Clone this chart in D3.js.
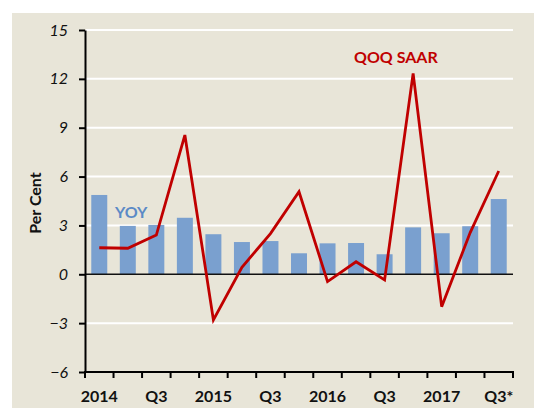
<!DOCTYPE html>
<html>
<head>
<meta charset="utf-8">
<script src="https://cdn.jsdelivr.net/npm/d3@7"></script>
<style>
  html, body { margin: 0; padding: 0; background: #ffffff; }
  svg { display: block; font-family: Lato, "Open Sans", sans-serif; }
</style>
</head>
<body>
<div class="chart"></div>
<script>
// quarters 2014Q1 .. 2017Q3
const quarters = ['2014Q1','2014Q2','2014Q3','2014Q4','2015Q1','2015Q2','2015Q3','2015Q4',
                  '2016Q1','2016Q2','2016Q3','2016Q4','2017Q1','2017Q2','2017Q3'];
// label shown under every second quarter
const quarterLabels = ['2014','','Q3','','2015','','Q3','','2016','','Q3','','2017','','Q3*'];
// year over year growth (bars)
const yoyValues = [4.87, 2.97, 3.03, 3.47, 2.46, 1.98, 2.04, 1.29, 1.9, 1.92, 1.23, 2.88, 2.52, 2.95, 4.62];
// quarter over quarter, seasonally adjusted annual rate (line)
const qoqValues = [1.63, 1.6, 2.41, 8.55, -2.8, 0.43, 2.5, 5.07, -0.45, 0.77, -0.35, 12.34, -1.99, 2.56, 6.34];
const yTicks = [-6, -3, 0, 3, 6, 9, 12, 15];

const svg_width = 534, svg_height = 408;
const plot = {left: 85, right: 513, top: 30, bottom: 372};

const svg = d3.select('.chart').append('svg')
    .attr('width', svg_width).attr('height', svg_height);

// beige panel
svg.append('rect').attr('x', 12).attr('y', 13)
    .attr('width', svg_width - 12).attr('height', svg_height - 13)
    .attr('fill', '#e8e5d8');

const x = d3.scaleBand().domain(quarters).range([plot.left, plot.right]).paddingInner(0.44).paddingOuter(0.22);
const xEdge = d3.scaleLinear().domain([0, quarters.length]).range([plot.left, plot.right]);
const y = d3.scaleLinear().domain([-6, 15]).range([plot.bottom, plot.top]);

// gridlines
svg.append('g').attr('class', 'grid')
    .selectAll('line').data(yTicks.filter(d => d !== -6 && d !== 0)).enter()
    .append('line')
    .attr('x1', plot.left + 1).attr('x2', plot.right)
    .attr('y1', d => y(d)).attr('y2', d => y(d))
    .style('stroke', '#ffffff').style('stroke-width', 2);

// bars
svg.append('g').attr('class', 'bars')
    .selectAll('rect').data(yoyValues).enter()
    .append('rect')
    .attr('x', (d, i) => x(quarters[i]))
    .attr('width', x.bandwidth())
    .attr('y', d => y(Math.max(0, d)))
    .attr('height', d => Math.abs(y(d) - y(0)))
    .attr('fill', '#7aa0cf');

// zero line
svg.append('line')
    .attr('x1', plot.left).attr('x2', plot.right)
    .attr('y1', y(0)).attr('y2', y(0))
    .style('stroke', '#111').style('stroke-width', 1.6);

// QOQ line
const lineGen = d3.line()
    .x((d, i) => x(quarters[i]) + x.bandwidth() / 2)
    .y(d => y(d));
svg.append('path').datum(qoqValues)
    .attr('d', lineGen)
    .style('fill', 'none').style('stroke', '#c00000')
    .style('stroke-width', 2.8).style('stroke-linejoin', 'miter');

// y axis
const yAxis = d3.axisLeft(y).tickValues(yTicks).tickSizeInner(6).tickSizeOuter(0).tickPadding(11);
const yG = svg.append('g').attr('transform', `translate(${plot.left},0)`).call(yAxis);
yG.select('.domain').style('stroke', '#000').style('stroke-width', 2);
yG.selectAll('.tick line').style('stroke', '#000').style('stroke-width', 2);
yG.selectAll('.tick text').style('font-size', '16px').style('font-style', 'italic')
    .style('fill', '#111').style('font-family', 'Lato, sans-serif');

// x axis: tick marks between quarters
const xG = svg.append('g').attr('class', 'x axis');
xG.append('line')
    .attr('x1', plot.left - 1).attr('x2', plot.right + 1)
    .attr('y1', plot.bottom).attr('y2', plot.bottom)
    .style('stroke', '#000').style('stroke-width', 2);
xG.selectAll('.xtick').data(d3.range(quarters.length + 1)).enter()
    .append('line')
    .attr('x1', d => xEdge(d)).attr('x2', d => xEdge(d))
    .attr('y1', plot.bottom).attr('y2', plot.bottom + 6)
    .style('stroke', '#000').style('stroke-width', 2);
xG.selectAll('.xlabel').data(quarterLabels).enter()
    .append('text')
    .attr('x', (d, i) => x(quarters[i]) + x.bandwidth() / 2)
    .attr('y', 402)
    .attr('text-anchor', 'middle')
    .style('font-size', '16px').style('font-weight', 'bold').style('fill', '#111')
    .text(d => d);

// axis title
svg.append('text')
    .attr('transform', 'translate(41,203) rotate(-90)')
    .attr('text-anchor', 'middle')
    .style('font-size', '16px').style('font-weight', 'bold').style('fill', '#111')
    .text('Per Cent');

// series labels
svg.append('text').attr('x', 115).attr('y', 218)
    .style('font-size', '16px').style('font-weight', 'bold').style('fill', '#5b8ac6')
    .text('YOY');
svg.append('text').attr('x', 354).attr('y', 62.5)
    .style('font-size', '16px').style('font-weight', 'bold').style('fill', '#c00000')
    .text('QOQ SAAR');
</script>
</body>
</html>
